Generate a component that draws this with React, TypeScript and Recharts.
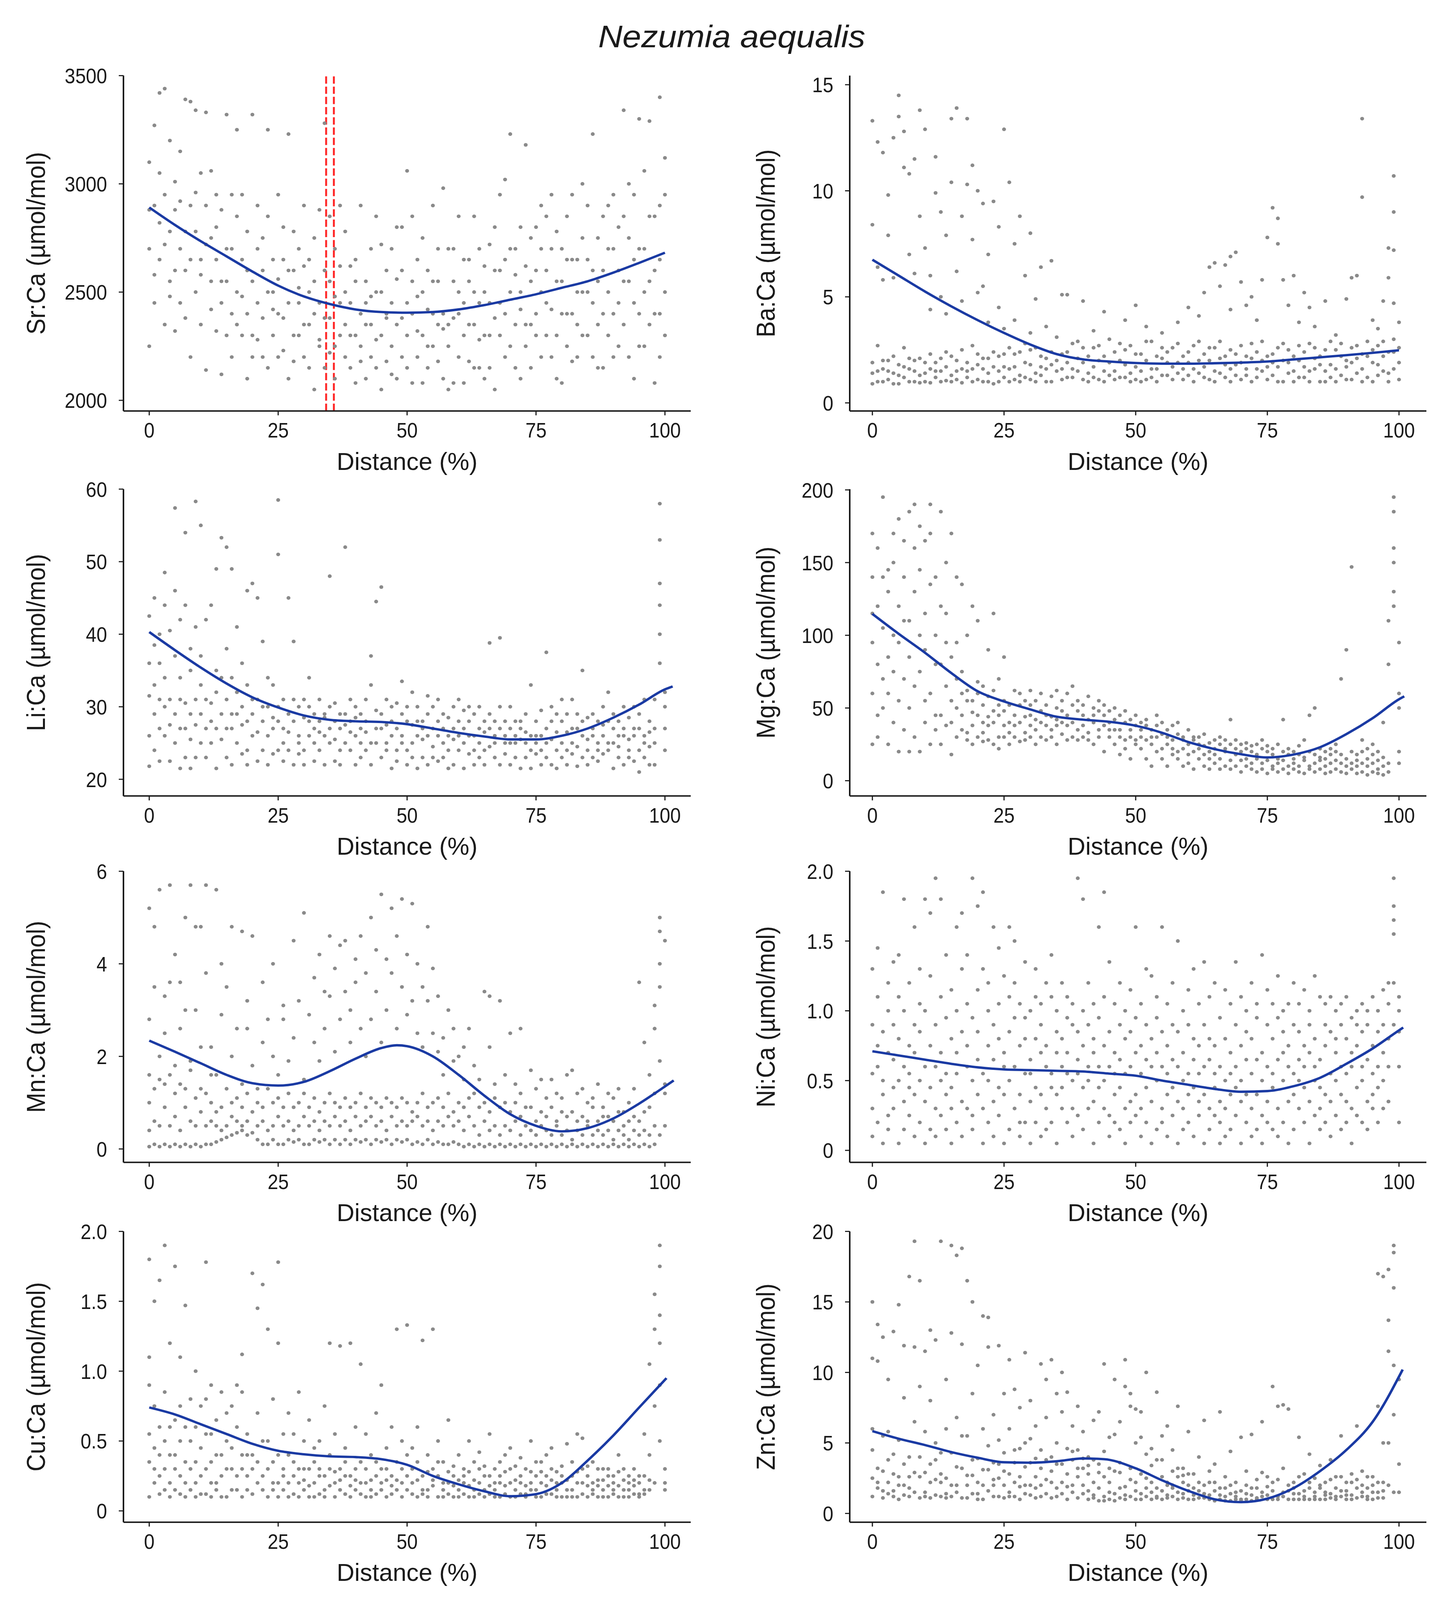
import { ScatterChart, Scatter, XAxis, YAxis, ReferenceLine } from 'recharts'

type Pt = [number, number]
type Col = [number, number[]] // distance (%), readings at that distance

/* ── Tick labels ── */

const X_TICKS = [0, 25, 50, 75, 100]
const SR_TICKS = [2000, 2500, 3000, 3500]
const BA_TICKS = [0, 5, 10, 15]
const LI_TICKS = [20, 30, 40, 50, 60]
const MG_TICKS = [0, 50, 100, 150, 200]
const MN_TICKS = [0, 2, 4, 6]
const NI_TICKS = [0, 0.5, 1.0, 1.5, 2.0]
const CU_TICKS = [0, 0.5, 1.0, 1.5, 2.0]
const ZN_TICKS = [0, 5, 10, 15, 20]

/* ── Sr:Ca ── */

const srCols: Col[] = [
  [0,[2250,2700,3100,2880]],[1,[2580,2900,3270,2450]],[2,[3050,3420,2650,2820]],[3,[2350,2950,3440,2720]],[4,[3200,2550,2780,2480]],
  [5,[2880,3010,2600,2320]],[6,[2450,2700,3150,2920]],[7,[3390,2600,2780,2380]],[8,[2200,2900,3380,2650]],[9,[2500,2780,3340,2960]],
  [10,[3050,2350,2650,2580]],[11,[2900,2140,2720,3330]],[12,[2550,2750,2420,3060]],[13,[2650,2950,2320,2800]],[14,[2550,2120,2880,2450]],
  [15,[2300,2550,3320,2700]],[16,[2700,2400,2200,2950]],[17,[2850,3250,2500,2350]],[18,[2300,2650,2950,2480]],[19,[2400,2100,2600,2780]],
  [20,[2300,2200,3320,2550]],[21,[2450,2700,2900,2280]],[22,[2200,2600,2380,2750]],[23,[2850,3250,2500,2150]],[24,[2500,2300,2650,2420]],
  [25,[2950,2400,2200,2560]],[26,[2230,2650,2380,2800]],[27,[3230,2100,2450,2600]],[28,[2600,2780,2300,2180]],[29,[2300,2450,2700,2520]],
  [30,[2200,2900,2350,2620]],[31,[2650,2350,2500,2150]],[32,[2050,2550,2750,2400]],[33,[2250,2450,2280,2880]],[34,[3280,2600,2150,2380]],
  [35,[2380,2850,2550,2220]],[36,[2250,2700,2100,2480]],[37,[2450,2300,2620,2900]],[38,[2200,2500,2350,2780]],[39,[2150,2450,2300,2620]],
  [40,[2300,2650,2080,2550]],[41,[2400,2900,2250,2180]],[42,[2550,2100,2350,2450]],[43,[2350,2700,2200,2480]],[44,[2150,2500,2850,2280]],
  [45,[2500,2720,2300,2050]],[46,[2600,2400,2180,2380]],[47,[2250,2700,2450,2120]],[48,[2100,2350,2560,2800]],[49,[2800,2600,2200,2380]],
  [50,[2450,3060,2150,2300]],[51,[2550,2080,2850,2400]],[52,[2650,2200,2320,2480]],[53,[2500,2300,2080,2750]],[54,[2150,2600,2420,2250]],
  [55,[2400,2900,2250,2550]],[56,[2550,2180,2350,2700]],[57,[2100,2980,2400,2330]],[58,[2350,2700,2250,2050]],[59,[2700,2550,2080,2380]],
  [60,[2200,2500,2400,2850]],[61,[2080,2650,2300,2450]],[62,[2650,2350,2180,2550]],[63,[2850,2350,2150,2500]],[64,[2150,2450,2700,2280]],
  [65,[2500,2300,2620,2100]],[66,[2720,2300,2450,2150]],[67,[2050,2600,2380,2800]],[68,[2600,2300,2950,2450]],[69,[2400,3020,2200,2650]],
  [70,[2250,3230,2500,2700]],[71,[2700,2350,2150,2580]],[72,[2500,2100,2800,2420]],[73,[3180,2350,2620,2250]],[74,[2350,2550,2750,2150]],
  [75,[2800,2600,2400,2300]],[76,[2200,2700,2500,2900]],[77,[2450,2300,2850,2600]],[78,[2950,2700,2200,2420]],[79,[2300,2550,2780,2100]],
  [80,[2550,2080,2400,2700]],[81,[2850,2400,2250,2650]],[82,[2400,2650,2950,2180]],[83,[2650,2200,2500,2350]],[84,[3000,2500,2300,2750]],
  [85,[2500,2300,2650,2900]],[86,[3230,2450,2200,2600]],[87,[2750,2350,2550,2150]],[88,[2150,2600,2400,2850]],[89,[2900,2300,2700,2500]],
  [90,[2400,2700,2200,2950]],[91,[2250,2600,2800,2450]],[92,[2850,3340,2350,2550]],[93,[2550,2200,2750,3000]],[94,[2100,2950,2450,2650]],
  [95,[2400,3300,2700,2250]],[96,[2700,2250,3060,2500]],[97,[3290,2550,2350,2850]],[98,[2080,2850,2600,2400]],[99,[3400,2400,2650,2200,2900]],
  [100,[3120,2300,2950,2500]],
]
const srCurve: Pt[] = [
  [0,2891],[5,2810],[10,2735],[15,2665],[20,2595],[25,2530],[30,2480],[35,2445],[40,2420],[45,2408],[50,2405],[55,2408],[60,2420],[65,2440],[70,2465],[75,2490],[80,2520],[85,2550],[90,2590],[95,2635],[100,2682],
]
const srMarkers = [34.3, 35.8]

/* ── Ba:Ca ── */

const baCols: Col[] = [
  [0,[0.9,1.9,1.4,13.3,8.4]],[1,[1.5,2.7,1.0,12.3,6.4]],[2,[1.0,2.0,1.6,11.8,5.8]],[3,[2.0,1.1,1.5,9.8,7.9]],[4,[1.4,0.9,2.2,12.5,5.9]],
  [5,[0.9,1.8,1.3,14.5,13.5]],[6,[2.6,1.2,1.7,12.8,11.1]],[7,[1.6,1.0,2.1,10.8,7.0]],[8,[1.0,1.5,2.0,11.5,6.1]],[9,[2.1,1.3,0.95,13.8,8.8]],
  [10,[1.4,1.9,1.0,12.9,7.3]],[11,[0.95,1.6,2.3,6.0,4.4]],[12,[1.9,1.2,1.5,9.9,11.6]],[13,[1.5,2.1,1.0,5.0,9.0]],[14,[1.05,1.7,2.4,7.9,4.2]],
  [15,[2.2,1.3,1.0,13.4,10.4]],[16,[1.5,2.0,1.1,13.9,6.2]],[17,[0.95,1.6,2.5,8.8,4.8]],[18,[1.9,1.2,1.5,13.4,10.3]],[19,[2.7,1.0,1.6,11.2,7.7]],
  [20,[1.1,1.8,2.3,10.0,5.2]],[21,[1.6,1.0,2.1,5.5,9.4]],[22,[2.1,1.4,1.0,7.0,3.8]],[23,[0.9,1.7,2.4,9.5]],[24,[1.5,1.0,2.2,4.5,8.3]],
  [25,[2.3,1.2,1.7,12.9,3.5]],[26,[1.0,1.6,2.6,10.4]],[27,[1.7,1.1,2.3,7.5,3.9]],[28,[2.4,1.3,1.0,8.8]],[29,[1.2,1.9,2.8,6.0]],
  [30,[1.8,1.1,2.5,8.0,3.3]],[31,[2.6,1.4,1.0,4.9]],[32,[1.3,2.2,1.7,6.4]],[33,[2.1,1.0,1.6,3.6]],[34,[1.0,2.4,1.8,6.7]],
  [35,[3.1,1.5,2.0]],[36,[1.6,2.3,1.1,5.1]],[37,[2.4,1.2,1.9,5.1]],[38,[1.2,2.8,1.6]],[39,[2.9,1.5,2.1]],
  [40,[1.9,1.1,2.6,4.8]],[41,[1.4,2.2,1.0]],[42,[2.6,1.7,1.2,3.4]],[43,[1.1,2.0,2.7]],[44,[2.2,1.5,1.0,4.3]],
  [45,[3.0,1.3,1.9]],[46,[1.5,2.4,1.1]],[47,[2.0,1.2,2.8]],[48,[1.2,1.8,2.5,3.9]],[49,[2.7,1.4,1.0]],
  [50,[1.7,2.3,1.1,4.6]],[51,[2.3,1.5,1.0]],[52,[1.1,2.0,2.9,3.6]],[53,[2.9,1.6,1.2]],[54,[1.6,2.2,1.0]],
  [55,[2.1,1.3,2.6,3.3]],[56,[1.3,1.9,2.4]],[57,[2.6,1.1,1.7]],[58,[1.9,1.4,2.8,3.8]],[59,[1.1,2.2,1.6]],
  [60,[2.4,1.3,1.9,4.5]],[61,[1.6,2.7,1.0]],[62,[2.9,1.4,2.0,4.1]],[63,[1.2,2.3,1.7,5.2]],[64,[2.0,1.1,2.6,6.4]],
  [65,[2.6,1.5,1.0,6.6]],[66,[1.4,2.1,2.9,5.5]],[67,[2.2,1.2,1.8,6.5]],[68,[1.0,2.5,1.6,6.9,4.4]],[69,[1.8,1.3,2.3,7.1]],
  [70,[2.7,1.1,1.9,5.7]],[71,[1.3,2.2,1.6,4.6]],[72,[2.1,1.0,2.8,5.0]],[73,[1.6,2.4,1.2,3.9]],[74,[2.9,1.5,2.0,5.8]],
  [75,[1.1,2.2,1.7,7.8]],[76,[2.3,1.3,1.9,9.2]],[77,[1.7,2.6,1.0,8.7,7.5]],[78,[1.0,2.0,2.8,5.8]],[79,[2.5,1.4,1.9,4.6]],
  [80,[1.5,2.2,1.0,6.0]],[81,[2.0,1.2,2.7,3.8]],[82,[1.2,2.4,1.7,5.2]],[83,[2.8,1.5,1.0,4.5]],[84,[1.6,2.1,2.6,3.6]],
  [85,[2.2,1.0,1.8]],[86,[1.0,2.5,1.5,4.8]],[87,[1.8,1.2,2.9]],[88,[2.5,1.6,1.0,3.2]],[89,[1.3,2.2,2.8]],
  [90,[2.0,1.1,1.7,4.9]],[91,[1.1,2.6,1.9,5.9]],[92,[2.7,1.4,2.1,6.0]],[93,[1.6,2.3,1.0,9.7,13.4]],[94,[2.2,1.2,2.9]],
  [95,[1.0,1.9,2.5,3.9]],[96,[1.8,2.7,1.3,3.5]],[97,[2.9,1.5,2.2,4.8]],[98,[1.4,2.4,1.0,5.9,7.3]],[99,[2.4,1.6,3.0,9.0,10.7,4.7,7.2]],
  [100,[1.9,1.1,2.6,3.8]],
]
const baCurve: Pt[] = [
  [0,6.75],[5,6.0],[10,5.25],[15,4.55],[20,3.9],[25,3.3],[30,2.75],[35,2.3],[40,2.05],[45,1.95],[50,1.88],[55,1.85],[60,1.85],[65,1.87],[70,1.9],[75,1.95],[80,2.05],[85,2.15],[90,2.25],[95,2.36],[100,2.48],
]

/* ── Li:Ca ── */

const liCols: Col[] = [
  [0,[21.8,26,31.5,36,42.5]],[1,[29,24,38.5,33,45]],[2,[27,22.5,40,31,36]],[3,[48.5,26,30,44,34]],[4,[22.5,40.5,27.5,31]],
  [5,[57.4,46,25,37,29]],[6,[21.5,34,42,27,31]],[7,[54,23,44,30.5,27]],[8,[21.5,35,25.5,29,38]],[9,[58.3,31,23,27.5,41]],
  [10,[55,29,33,25,37]],[11,[23,42,27,31]],[12,[44,30.5,25,28]],[13,[21.5,35,27,32,49]],[14,[53.3,25.5,29,34]],
  [15,[52,38,23,31,27]],[16,[49,27,34,22,29]],[17,[41,29,25,32]],[18,[23.5,36,27.5,30]],[19,[46,24,28,33,22]],
  [20,[47,26,29,31]],[21,[22.5,45,26.5,31]],[22,[39,24,28,30]],[23,[22,34,26,30]],[24,[23.5,28.5,27,33]],
  [25,[58.5,24,51,28,30]],[26,[22.5,27,31,25]],[27,[45,26.5,29,24]],[28,[39,22,28,31]],[29,[25,30,26,23.5]],
  [30,[28.5,24,22,31]],[31,[30,26,28,34]],[32,[22.5,27,29,25]],[33,[28,24,31,26.5]],[34,[26,29,22,28.5]],
  [35,[48,25,30,27]],[36,[22.5,28,25.5,30.5]],[37,[27,24,29,22]],[38,[52,29,25,27.5]],[39,[24,31,26.5,28]],
  [40,[22,28.5,26,30]],[41,[23,27,25,29]],[42,[31,24,26.5,28]],[43,[37,33,25,22]],[44,[44.5,25,29.5,27]],
  [45,[46.5,23,27,29]],[46,[31,25,27.5,24]],[47,[21.5,28,26,30]],[48,[24,30.5,27,22.5]],[49,[26,29,25,33.5]],
  [50,[28,24,22,30]],[51,[27.5,25,23,32]],[52,[21.5,30,26,28]],[53,[25.5,28,23,27]],[54,[22,29,26,31.5]],
  [55,[24.5,27,30,23]],[56,[26,31,28,22.5]],[57,[23,27,25,29]],[58,[21.5,26,28.5,24]],[59,[22,30,25.5,27]],
  [60,[28,24,26,31]],[61,[21.5,27,25,29.5]],[62,[23.5,28,26,30]],[63,[26,24,22,29]],[64,[27,25,30,23]],
  [65,[22,26.5,28,24]],[66,[38.8,29,24.5,27]],[67,[26,23,28,25]],[68,[39.5,27,22,30]],[69,[25,28,23.5,26]],
  [70,[30,25,27,22]],[71,[23,26,28,25]],[72,[28,21.5,25.5,27]],[73,[25,29,23,26.5]],[74,[33,26,24,21.5]],
  [75,[26,23.5,28,25]],[76,[29.5,22,26,24]],[77,[37.5,25,27,23]],[78,[22,28,25.5,30]],[79,[24,26.5,29,21.5]],
  [80,[28,23,25,31]],[81,[26.5,24,29,22]],[82,[31,25,27,23.5]],[83,[21.8,27,24.5,29]],[84,[35,26,23,28]],
  [85,[24,28.5,25.5,22]],[86,[29,26,23,27]],[87,[22.5,25,28,24]],[88,[26,30,23.5,27.5]],[89,[32,24,28,25]],
  [90,[21.5,27,25,29]],[91,[28,23,26,24.5]],[92,[26,30,22,27]],[93,[23,25.5,28.5,24]],[94,[30,26,22.5,27]],
  [95,[27,24,29,21]],[96,[25,31,23,26]],[97,[22,28,24.5,26.5]],[98,[31,25,22,27]],[99,[58,53,47,44,40,36]],
  [100,[27,24,30,32]],
]
const liCurve: Pt[] = [
  [0,40.3],[5,37.8],[10,35.4],[15,33.2],[20,31.3],[25,29.9],[30,28.8],[35,28.2],[40,28.0],[45,27.9],[50,27.6],[55,27.0],[60,26.4],[65,25.9],[70,25.5],[75,25.5],[80,26.0],[85,27.0],[90,28.5],[95,30.3],[100,32.4],[101.5,32.8],
]

/* ── Mg:Ca ── */

const mgCols: Col[] = [
  [0,[25,60,95,140,170,115]],[1,[80,45,120,160,30]],[2,[70,195,105,50,140]],[3,[145,85,25,130,60]],[4,[170,40,100,150,75]],
  [5,[20,120,55,180,95]],[6,[35,140,70,165,110]],[7,[20,110,185,50,85]],[8,[190,130,30,65,160]],[9,[100,20,175,75,145]],
  [10,[40,115,55,165,90]],[11,[25,135,60,170,190]],[12,[35,100,140,45,80]],[13,[45,80,120,25,185]],[14,[65,95,38,115,150]],
  [15,[55,18,85,40,170]],[16,[70,30,50,95,140]],[17,[35,60,45,75,135]],[18,[28,55,62,33,100]],[19,[47,25,55,38,120]],
  [20,[68,30,45,60,110]],[21,[27,40,52,65,33]],[22,[44,28,58,38,90]],[23,[48,62,25,40,115]],[24,[52,22,30,45,70]],
  [25,[38,55,30,48,85]],[26,[25,40,52,33]],[27,[45,62,30,38]],[28,[60,27,40,52]],[29,[33,44,28,55]],
  [30,[52,38,30,45,62]],[31,[25,42,35,55]],[32,[40,48,30,60]],[33,[28,38,52,45]],[34,[44,58,35,30]],
  [35,[38,50,25,42,62]],[36,[32,55,40,48]],[37,[28,45,60,38]],[38,[40,52,30,65]],[39,[35,48,55,28]],
  [40,[30,45,52,38]],[41,[42,58,33,28]],[42,[25,40,50,45]],[43,[35,55,30,48]],[44,[20,38,45,52]],
  [45,[30,48,40,35]],[46,[25,42,50,35]],[47,[18,35,30,45]],[48,[28,40,48,22]],[49,[15,30,42,35]],
  [50,[25,38,45,28]],[51,[22,30,40,35]],[52,[15,28,42,38]],[53,[10,25,35,30]],[54,[20,30,38,45]],
  [55,[15,22,32,40]],[56,[10,25,30,35]],[57,[18,28,38,22]],[58,[15,20,32,40]],[59,[10,22,30,28]],
  [60,[12,18,25,35]],[61,[8,20,28,30]],[62,[15,22,30,25]],[63,[10,18,24,32]],[64,[8,20,26,15]],
  [65,[12,22,28,18]],[66,[8,15,25,30]],[67,[10,20,22,28]],[68,[8,14,25,42]],[69,[10,18,22,28]],
  [70,[6,14,20,25]],[71,[10,15,22,26]],[72,[8,12,20,24]],[73,[6,15,18,25]],[74,[8,12,22,28]],
  [75,[5,14,20,24]],[76,[8,10,18,22]],[77,[6,12,15,25]],[78,[8,14,20,42]],[79,[5,10,18,22]],
  [80,[8,12,15,20]],[81,[6,10,18,24]],[82,[5,14,16,28]],[83,[8,10,20,45]],[84,[6,12,18,50]],
  [85,[8,14,22,16]],[86,[5,10,15,20]],[87,[6,12,18,22]],[88,[8,14,20,25]],[89,[6,12,18,70]],
  [90,[5,10,15,90]],[91,[8,12,20,147]],[92,[5,14,18,10]],[93,[6,12,20,28]],[94,[4,10,15,22]],
  [95,[6,12,18,25]],[96,[5,8,14,20]],[97,[4,10,16,40]],[98,[6,12,80,110]],[99,[120,150,160,185,195,130]],
  [100,[95,50,20,12,60]],
]
const mgCurve: Pt[] = [
  [0,114.7],[5,101],[10,88],[15,74],[20,61.5],[25,54.5],[30,49],[35,44],[40,42],[45,40.5],[50,37.8],[55,33],[60,26.6],[65,21.7],[70,18.2],[75,16],[80,18],[85,23],[90,32],[95,43],[100,56],[101,58],
]

/* ── Mn:Ca ── */

const mnCols: Col[] = [
  [0,[0.05,0.4,1.0,1.6,2.8,5.2]],[1,[0.1,0.6,1.3,3.5,4.8]],[2,[0.05,0.5,1.5,2.0,5.6]],[3,[0.1,0.9,1.4,3.3,2.5]],[4,[0.05,0.5,1.6,3.6,5.7]],
  [5,[0.1,0.7,1.2,1.8,4.2]],[6,[0.05,0.4,1.4,2.6,3.6]],[7,[0.1,0.9,1.3,5.0,3.0]],[8,[0.05,0.6,1.7,1.9,5.7]],[9,[0.1,0.5,1.1,3.0,4.8]],
  [10,[0.05,0.8,1.3,4.8,2.2]],[11,[0.1,0.5,1.2,3.8,5.7]],[12,[0.1,0.6,1.0,2.2,1.6]],[13,[0.15,0.5,0.8,1.6,5.6]],[14,[0.2,0.4,0.9,2.9,4.0]],
  [15,[0.25,0.5,1.3,3.5]],[16,[0.3,0.7,1.0,2.0,4.8]],[17,[0.35,0.6,1.1,2.6]],[18,[0.4,0.5,0.9,1.4,4.7]],[19,[0.3,0.6,1.2,2.6,3.2]],
  [20,[0.35,0.8,1.8,4.6]],[21,[0.2,0.5,1.0,1.3]],[22,[0.1,0.6,0.9,2.3,3.6]],[23,[0.1,0.4,1.3,2.8]],[24,[0.2,0.5,1.0,2.0,4.0]],
  [25,[0.1,0.7,1.1,1.6]],[26,[0.1,0.5,0.9,2.8,3.1]],[27,[0.2,0.6,1.2,1.9]],[28,[0.15,0.4,0.9,2.4,4.5]],[29,[0.2,0.5,1.0,3.2]],
  [30,[0.1,0.7,1.2,1.5,5.1]],[31,[0.1,0.5,0.9,2.9]],[32,[0.2,0.6,1.1,3.7,2.3]],[33,[0.15,0.4,0.8,1.9,4.2]],[34,[0.2,0.6,1.0,2.6,3.4]],
  [35,[0.1,0.5,1.2,3.3,4.6]],[36,[0.2,0.7,1.0,2.1,3.9]],[37,[0.1,0.5,0.9,2.8,4.4]],[38,[0.2,0.6,1.1,3.4,4.5]],[39,[0.1,0.4,0.9,2.3,3.0]],
  [40,[0.2,0.7,1.0,4.1,3.6]],[41,[0.15,0.5,1.2,2.6,4.6]],[42,[0.2,0.6,0.9,3.8,2.0]],[43,[0.1,0.7,1.1,2.8,5.0]],[44,[0.2,0.5,1.0,3.4,4.3]],
  [45,[0.15,0.6,0.9,2.3,5.5]],[46,[0.2,0.4,1.1,4.1,3.0]],[47,[0.1,0.7,1.0,3.8,5.2]],[48,[0.2,0.5,0.9,2.6,4.6]],[49,[0.15,0.6,1.1,3.5,5.4]],
  [50,[0.2,0.5,1.0,2.9,4.2]],[51,[0.1,0.6,0.8,3.2,5.3]],[52,[0.15,0.7,1.0,2.5,4.0]],[53,[0.1,0.5,1.2,3.5,2.2]],[54,[0.2,0.6,0.9,3.2,4.8]],
  [55,[0.1,0.4,1.0,2.5,3.9]],[56,[0.15,0.6,1.1,2.1,3.3]],[57,[0.1,0.5,0.9,1.6,2.4]],[58,[0.1,0.7,1.2,3.0]],[59,[0.15,0.5,0.8,1.9,2.6]],
  [60,[0.1,0.6,1.0,2.0]],[61,[0.05,0.4,0.9,1.5,2.2]],[62,[0.1,0.7,1.1,2.6]],[63,[0.05,0.5,1.2,1.8]],[64,[0.1,0.3,0.9,1.5]],
  [65,[0.05,0.6,1.0,3.4]],[66,[0.1,0.4,0.8,2.2,3.3]],[67,[0.05,0.5,1.4,1.1]],[68,[0.1,0.3,0.9,3.2]],[69,[0.05,0.5,1.0,1.6]],
  [70,[0.1,0.4,0.8,2.5]],[71,[0.05,0.6,1.0,1.4]],[72,[0.1,0.3,0.7,1.2,2.6]],[73,[0.05,0.5,0.9]],[74,[0.1,0.4,0.9,1.7]],
  [75,[0.05,0.3,0.6,1.3]],[76,[0.1,0.5,0.8,1.5]],[77,[0.05,0.4,0.7,1.1]],[78,[0.1,0.3,0.9,1.5]],[79,[0.05,0.5,0.6,1.2]],
  [80,[0.1,0.3,0.8,1.1]],[81,[0.05,0.4,0.7,1.6]],[82,[0.1,0.2,0.8,1.7]],[83,[0.05,0.4,0.6,1.2]],[84,[0.1,0.3,0.7,1.3]],
  [85,[0.05,0.5,0.6,1.0]],[86,[0.1,0.3,0.9,1.1]],[87,[0.05,0.4,0.6,1.4]],[88,[0.1,0.3,0.7,0.9]],[89,[0.05,0.4,0.7,1.2]],
  [90,[0.1,0.2,0.6,1.1]],[91,[0.05,0.4,0.8,1.3]],[92,[0.1,0.3,0.5,0.8]],[93,[0.05,0.2,0.6,1.0]],[94,[0.1,0.4,0.7,1.3]],
  [95,[0.05,0.3,0.6,3.6]],[96,[0.1,0.4,0.8,2.3]],[97,[0.05,0.3,0.9,1.6]],[98,[0.1,0.5,1.2,2.6,3.1]],[99,[0.3,1.9,4.0,5.0,4.7,3.5]],
  [100,[0.5,1.2,1.4,4.5]],
]
const mnCurve: Pt[] = [
  [0,2.34],[5,2.1],[10,1.85],[15,1.6],[20,1.42],[25,1.37],[30,1.45],[35,1.68],[40,1.95],[45,2.18],[48,2.24],[50,2.22],[55,2.0],[60,1.6],[65,1.15],[70,0.75],[75,0.5],[80,0.38],[85,0.45],[90,0.66],[95,0.98],[100,1.35],[101.7,1.48],
]

/* ── Ni:Ca ── */

const niCols: Col[] = [
  [0,[0.1,0.55,0.9,1.3,0.3]],[1,[0.75,1.45,0.2,0.6,1.1]],[2,[0.4,1.85,0.05,0.85,0.5]],[3,[1.2,0.25,0.7,1.0,0.15]],[4,[0.45,1.35,0.9,0.3,0.65]],
  [5,[1.1,0.05,0.5,0.8,1.4]],[6,[0.35,0.6,1.0,0.15,1.8]],[7,[0.45,0.75,0.25,1.2,0.55]],[8,[0.9,0.1,1.6,0.4,0.7]],[9,[1.05,0.2,0.5,1.3,0.85]],
  [10,[0.05,1.8,0.35,0.6,1.0]],[11,[0.15,1.7,0.45,0.75,1.25]],[12,[0.3,0.6,0.9,1.95,0.1]],[13,[0.5,1.1,0.25,0.7,1.8]],[14,[0.4,0.95,0.15,0.55,1.4]],
  [15,[0.3,0.8,1.15,0.05,0.45]],[16,[1.6,0.7,0.2,1.0,0.55]],[17,[1.3,0.35,0.85,0.1,1.7]],[18,[0.6,1.05,0.3,0.75,1.4]],[19,[0.15,0.5,0.95,1.95,0.25]],
  [20,[0.65,1.15,0.4,1.75,0.85]],[21,[0.05,0.55,1.3,0.3,1.85]],[22,[0.75,1.0,0.2,0.5,1.2]],[23,[0.9,0.35,1.6,0.65,0.1]],[24,[1.05,0.45,0.8,1.45,0.25]],
  [25,[0.6,1.25,0.05,0.7,0.4]],[26,[1.1,1.6,0.15,0.85,0.5]],[27,[1.2,0.3,0.95,0.6,1.5]],[28,[0.1,0.75,0.4,1.05,0.2]],[29,[0.8,0.55,0.2,1.35,0.95]],
  [30,[0.05,0.55,1.0,0.35,0.65]],[31,[0.2,1.1,0.45,0.8,1.3]],[32,[0.7,0.1,0.9,0.4,1.05]],[33,[0.6,1.2,0.3,0.75,0.15]],[34,[1.1,0.45,1.4,0.55,0.2]],
  [35,[0.7,1.0,0.4,0.05,0.85]],[36,[0.8,0.3,0.6,1.2,0.45]],[37,[0.2,0.95,0.55,1.1,0.7]],[38,[0.1,0.9,1.05,0.5,0.3]],[39,[0.55,1.95,0.85,0.25,0.65]],
  [40,[0.45,0.15,1.0,0.75,1.8]],[41,[0.6,0.3,0.9,1.2,0.5]],[42,[0.05,0.7,1.05,0.35,0.8]],[43,[0.45,1.6,0.2,0.95,0.6]],[44,[1.85,0.75,0.3,1.1,0.5]],
  [45,[0.25,0.85,0.6,1.35,0.1]],[46,[0.7,0.4,1.05,0.55,0.2]],[47,[0.15,0.9,0.65,1.2,0.45]],[48,[0.8,0.3,1.0,0.55,0.05]],[49,[0.6,1.15,0.35,0.85,0.2]],
  [50,[0.4,1.6,0.7,0.25,0.95]],[51,[0.1,0.55,1.05,0.75,0.3]],[52,[0.65,0.9,0.2,1.3,0.45]],[53,[0.35,0.8,1.25,0.05,0.6]],[54,[0.5,0.15,0.95,0.7,1.1]],
  [55,[0.3,0.6,1.6,0.85,0.2]],[56,[0.75,0.4,1.05,0.55,0.1]],[57,[0.9,0.25,0.65,1.2,0.45]],[58,[0.6,0.35,0.85,0.05,1.5]],[59,[0.15,0.7,0.5,1.0,0.3]],
  [60,[0.55,0.9,0.2,1.15,0.4]],[61,[0.1,0.65,0.45,0.8,1.3]],[62,[0.35,0.75,0.25,1.05,0.55]],[63,[0.6,0.05,0.9,0.4,1.35]],[64,[0.3,0.8,0.15,0.65,1.1]],
  [65,[0.45,1.2,0.25,0.75,0.55]],[66,[0.2,0.6,0.95,0.35,0.05]],[67,[0.5,1.15,0.3,0.8,0.1]],[68,[0.7,0.4,0.15,1.05,0.55]],[69,[0.25,0.9,1.35,0.45,0.6]],
  [70,[0.05,0.75,0.35,1.1,0.5]],[71,[0.2,0.65,1.0,0.4,0.85]],[72,[0.55,0.1,0.8,1.2,0.3]],[73,[0.95,0.4,0.65,0.15,1.05]],[74,[0.25,0.7,1.4,0.5,0.05]],
  [75,[0.6,0.35,0.9,1.15,0.2]],[76,[0.45,0.8,0.15,1.05,0.55]],[77,[0.1,0.65,0.95,0.3,1.25]],[78,[0.5,0.85,0.2,0.7,1.0]],[79,[0.35,1.05,0.6,0.05,0.75]],
  [80,[0.15,0.55,0.9,1.2,0.4]],[81,[0.65,0.3,1.05,0.5,0.85]],[82,[0.2,0.75,0.45,1.15,0.6]],[83,[0.05,0.9,0.35,0.7,1.0]],[84,[0.5,1.25,0.25,0.8,0.6]],
  [85,[0.3,0.65,1.1,0.45,0.15]],[86,[0.75,0.4,0.9,1.05,0.2]],[87,[0.55,0.1,0.85,0.35,1.1]],[88,[0.25,0.7,1.0,0.5,0.8]],[89,[0.6,1.05,0.15,0.9,0.4]],
  [90,[0.35,0.8,0.55,1.1,0.2]],[91,[0.7,0.3,0.95,0.05,0.6]],[92,[0.45,1.0,0.25,0.75,0.9]],[93,[0.2,0.6,1.05,0.5,0.85]],[94,[0.65,0.35,0.9,0.15,1.0]],
  [95,[0.4,0.75,0.55,1.1,0.3]],[96,[0.2,0.85,0.6,1.0,0.45]],[97,[0.7,0.3,1.15,0.5,0.9]],[98,[0.6,1.05,0.35,0.8,1.2]],[99,[1.55,1.65,1.75,1.95,1.2,0.9]],
  [100,[1.1,0.6,0.2,0.85,1.0]],
]
const niCurve: Pt[] = [
  [0,0.71],[5,0.68],[10,0.65],[15,0.62],[20,0.595],[25,0.58],[30,0.575],[35,0.57],[40,0.565],[45,0.55],[50,0.535],[55,0.5],[60,0.47],[65,0.44],[70,0.42],[75,0.425],[80,0.46],[85,0.52],[90,0.62],[95,0.73],[100,0.86],[100.8,0.88],
]

/* ── Cu:Ca ── */

const cuCols: Col[] = [
  [0,[0.1,0.35,0.55,0.9,1.1,1.8]],[1,[0.2,0.45,1.5,0.75,0.3]],[2,[0.12,0.6,1.65,0.4,0.25]],[3,[0.3,0.85,1.9,0.15,0.5]],[4,[0.2,0.6,1.2,0.4,0.1]],
  [5,[0.15,0.4,1.75,0.65,0.3]],[6,[0.25,0.5,1.1,0.75,0.12]],[7,[0.1,0.35,1.47,0.6,0.2]],[8,[0.3,0.8,0.5,0.15]],[9,[0.2,0.6,1.0,0.35,0.1]],
  [10,[0.45,0.75,0.25,0.12]],[11,[0.12,0.3,1.78,0.55,0.8]],[12,[0.2,0.55,0.9,0.35,0.1]],[13,[0.2,0.65,0.4,0.15]],[14,[0.1,0.4,0.85,0.25]],
  [15,[0.1,0.5,0.3,0.7]],[16,[0.3,0.75,0.15,0.45]],[17,[0.15,0.6,0.25,0.9]],[18,[0.1,0.4,1.12,0.3,0.85]],[19,[0.25,0.55,0.15,0.4]],
  [20,[0.12,0.4,1.7,0.3]],[21,[0.2,0.7,1.45,0.35]],[22,[0.25,1.62,0.15,0.5]],[23,[0.1,0.5,1.3,0.3]],[24,[0.2,0.35,0.8,0.15]],
  [25,[0.2,1.2,1.78,0.4,0.1]],[26,[0.15,0.55,0.3,0.25]],[27,[0.1,0.4,0.7,0.2]],[28,[0.25,0.55,0.12,0.35]],[29,[0.1,0.3,0.85,0.2]],
  [30,[0.3,0.5,0.15,0.22]],[31,[0.18,0.65,0.1,0.3]],[32,[0.35,0.1,0.2,0.45]],[33,[0.25,0.5,0.12,0.3]],[34,[0.15,0.75,0.25,0.1]],
  [35,[0.4,1.2,0.18,0.3]],[36,[0.2,0.55,0.1,0.28]],[37,[0.3,1.18,0.15,0.22]],[38,[0.12,0.45,0.25,0.35]],[39,[0.25,1.2,0.1,0.18]],
  [40,[0.15,0.6,0.3,0.22]],[41,[0.35,1.05,0.12,0.2]],[42,[0.2,0.55,0.1,0.3]],[43,[0.1,0.4,0.22,0.15]],[44,[0.25,0.7,0.12,0.35]],
  [45,[0.15,0.9,0.3,0.2]],[46,[0.3,0.45,0.1,0.22]],[47,[0.12,0.6,0.25,0.18]],[48,[0.35,1.3,0.15,0.22]],[49,[0.2,0.5,0.1,0.3]],
  [50,[0.15,1.33,0.25,0.4]],[51,[0.3,0.45,0.12,0.2]],[52,[0.1,0.6,0.22,0.35]],[53,[0.25,1.22,0.15,0.12]],[54,[0.15,0.4,0.28,0.1]],
  [55,[0.3,1.3,0.18,0.22]],[56,[0.1,0.5,0.25,0.35]],[57,[0.2,0.35,0.1,0.15]],[58,[0.12,0.65,0.28,0.2]],[59,[0.25,0.1,0.18,0.32]],
  [60,[0.1,0.4,0.22,0.15]],[61,[0.3,0.12,0.2,0.25]],[62,[0.18,0.5,0.1,0.28]],[63,[0.1,0.22,0.35,0.15]],[64,[0.3,0.42,0.12,0.2]],
  [65,[0.15,0.25,0.1,0.32]],[66,[0.25,0.55,0.12,0.18]],[67,[0.1,0.2,0.3,0.15]],[68,[0.35,0.2,0.1,0.25]],[69,[0.12,0.28,0.18,0.4]],
  [70,[0.3,0.45,0.1,0.2]],[71,[0.1,0.22,0.15,0.32]],[72,[0.2,0.38,0.12,0.25]],[73,[0.12,0.3,0.18,0.1]],[74,[0.28,0.5,0.15,0.2]],
  [75,[0.15,0.25,0.1,0.35]],[76,[0.35,0.1,0.2,0.28]],[77,[0.25,0.12,0.18,0.4]],[78,[0.45,0.12,0.22,0.3]],[79,[0.2,0.1,0.28,0.15]],
  [80,[0.32,0.1,0.2,0.25]],[81,[0.48,0.15,0.22,0.1]],[82,[0.15,0.25,0.35,0.1]],[83,[0.55,0.1,0.2,0.28]],[84,[0.3,0.52,0.12,0.2]],
  [85,[0.18,0.1,0.25,0.32]],[86,[0.12,0.35,0.2,0.15]],[87,[0.22,0.1,0.3,0.18]],[88,[0.1,0.3,0.15,0.22]],[89,[0.18,0.25,0.1,0.3]],
  [90,[0.25,0.12,0.2,0.15]],[91,[0.4,0.1,0.18,0.28]],[92,[0.15,0.22,0.1,0.3]],[93,[0.1,0.2,0.25,0.15]],[94,[0.3,0.18,0.12,0.22]],
  [95,[0.12,0.25,0.1,0.2]],[96,[0.25,0.55,0.15,0.12]],[97,[0.15,1.05,0.4,0.22]],[98,[1.55,0.75,1.3,0.2]],[99,[1.4,0.9,1.9,1.75,0.5,1.2]],
  [100,[0.2,0.15,0.3]],
]
const cuCurve: Pt[] = [
  [0,0.74],[5,0.69],[10,0.62],[15,0.55],[20,0.48],[25,0.43],[30,0.405],[35,0.39],[40,0.385],[45,0.37],[50,0.33],[55,0.25],[60,0.19],[65,0.14],[70,0.105],[75,0.12],[80,0.2],[85,0.36],[90,0.54],[95,0.74],[100.3,0.95],
]

/* ── Zn:Ca ── */

const znCols: Col[] = [
  [0,[1.2,2.5,4.5,11,15,6]],[1,[1.8,3.2,13.4,10.8,2.2]],[2,[1.1,5.5,12.5,1.6,3.0]],[3,[2.2,9.5,1.4,3.8,5.8]],[4,[1.2,2.8,12.9,4.2,1.6]],
  [5,[1.0,5.2,14.8,2.6,2.0]],[6,[2.0,8.2,3.5,1.3,11.9]],[7,[1.2,16.8,2.6,4.0,1.8]],[8,[19.3,11.8,6.5,1.5,2.9]],[9,[2.6,4.0,16.5,1.1,9.0]],
  [10,[1.5,11.5,2.9,5.8,1.2]],[11,[1.1,13,2.2,8.0,3.5]],[12,[3.8,1.3,12.3,5.0,2.4]],[13,[19.3,2.2,1.2,4.3,2.8]],[14,[2.5,9.5,1.4,6.0,1.1]],
  [15,[19,1.2,4.3,2.0,12.8]],[16,[6.8,2.0,18.3,1.5,3.3]],[17,[3.2,12,1.1,5.5,18.8]],[18,[1.1,5.5,16.5,2.7,2.0]],[19,[8.5,2.7,1.4,15,3.8]],
  [20,[1.4,3.9,10.5,2.2,1.0]],[21,[6.0,1.0,14,3.1,2.0]],[22,[3.1,11.8,1.6,4.8,13.9]],[23,[2.4,7.0,1.2,3.6,2.0]],[24,[11.9,1.2,3.5,5.2,2.5]],
  [25,[2.0,8.5,1.1,4.3,3.0]],[26,[2.8,6.0,1.5,10.9,1.2]],[27,[3.6,2.2,8.8,1.2,4.5]],[28,[4.6,2.6,7.5,1.0,1.9]],[29,[3.3,11.4,2.0,1.4,5.0]],
  [30,[2.0,5.3,1.3,8.0,3.6]],[31,[3.9,2.6,6.2,1.1,1.8]],[32,[4.5,2.0,10.6,1.2,3.2]],[33,[1.4,6.8,9.5,2.4,3.8]],[34,[4.0,1.1,10.9,3.0,2.2]],
  [35,[8.5,1.8,5.0,1.2,3.5]],[36,[3.5,7.2,2.2,10.0,1.4]],[37,[1.0,4.6,2.8,8.6,1.9]],[38,[1.5,3.8,6.2,2.0,4.4]],[39,[1.1,4.5,2.6,7.6,3.2]],
  [40,[1.4,3.2,2.0,5.8,3.9]],[41,[1.0,2.8,1.6,4.0,3.4]],[42,[1.1,6.6,2.2,1.3,3.8]],[43,[3.5,0.9,1.8,7.2,2.9]],[44,[1.2,2.6,0.9,4.4,10.6]],
  [45,[1.5,2.2,1.0,5.4,3.2]],[46,[1.4,3.0,0.9,5.6,9.5]],[47,[1.8,1.1,2.9,6.5,3.6]],[48,[1.3,1.9,9.0,1.0,10.9]],[49,[2.4,7.6,1.2,3.2,8.5]],
  [50,[1.6,7.4,1.0,2.2,5.0]],[51,[5.4,1.4,2.8,1.0,7.2]],[52,[1.8,4.2,1.2,2.5,10.0]],[53,[3.4,1.0,1.5,2.2,4.6]],[54,[1.1,3.8,1.8,1.2,8.6]],
  [55,[2.6,5.5,1.0,1.6,3.8]],[56,[2.2,1.3,6.2,1.1,2.0]],[57,[2.0,3.0,1.2,1.8,4.5]],[58,[2.6,1.0,7.6,1.5,3.2]],[59,[1.1,2.2,1.4,3.2,2.7]],
  [60,[1.6,2.0,5.8,1.0,2.8]],[61,[1.0,2.8,1.3,1.8]],[62,[1.6,4.0,1.1,2.2]],[63,[1.1,6.6,1.4,2.0]],[64,[2.2,1.3,1.0,3.0]],
  [65,[3.5,0.9,1.6,2.2]],[66,[1.8,7.2,1.0,1.3]],[67,[1.2,2.6,0.9,1.8]],[68,[0.9,4.4,1.4,2.0]],[69,[1.5,2.2,1.0,1.2]],
  [70,[1.0,5.4,1.6,0.9]],[71,[1.4,3.0,1.0,2.0]],[72,[0.9,5.6,1.3,1.8]],[73,[1.8,1.1,2.4,1.0]],[74,[2.9,6.5,1.2,1.5]],
  [75,[1.3,1.9,1.0,2.6]],[76,[9.0,1.0,1.6,2.2]],[77,[2.4,7.6,1.2,1.0]],[78,[1.2,3.2,1.5,7.7]],[79,[1.6,7.4,1.0,2.0]],
  [80,[1.0,2.2,1.4,1.8]],[81,[5.4,1.4,1.0,2.6]],[82,[2.8,1.0,1.6,1.2]],[83,[1.8,4.2,1.0,2.2]],[84,[1.2,2.5,1.5,1.0]],
  [85,[3.4,1.0,1.8,2.0]],[86,[1.5,2.2,1.0,1.3]],[87,[1.1,3.8,1.4,2.4]],[88,[1.8,1.2,2.6,1.0]],[89,[2.6,5.5,1.2,1.6]],
  [90,[1.0,1.6,2.2,1.3]],[91,[2.2,1.3,1.0,2.8]],[92,[6.2,1.1,1.8,2.4]],[93,[2.0,3.0,1.2,1.5]],[94,[1.2,1.8,2.6,1.0]],
  [95,[2.6,1.0,1.5,2.0]],[96,[7.6,1.5,17,1.1,2.2]],[97,[1.1,2.2,16.8,1.6,5.0]],[98,[11.5,5.0,13.7,17.3,2.0]],[99,[16.0,18.5,19,10.5,7.0,1.5]],
  [100,[3.5,1.5,9.5]],
]
const znCurve: Pt[] = [
  [0,5.84],[5,5.3],[10,4.85],[15,4.35],[20,3.95],[25,3.63],[30,3.6],[35,3.7],[40,3.9],[44,3.85],[50,3.2],[55,2.35],[60,1.6],[65,1.0],[70,0.8],[75,1.05],[80,1.8],[85,3.0],[90,4.5],[95,6.5],[100.7,10.2],
]

/* ── Layout ── */

const PAGE_W = 3714
const PAGE_H = 4380
const FONT = '"Liberation Sans", Arial, Helvetica, sans-serif'
const INK = '#1a1a1a'
const DOT = '#8a8a8a'
const SMOOTH = '#1a3aa3'

const COLS = [
  { plotLeft: 316, plotW: 1452, labelDx: 224, xDomain: [-5, 105] },
  { plotLeft: 2175, plotW: 1476, labelDx: 215, xDomain: [-4.3, 105.2] },
]
const ROWS = [
  { top: 207, h: 918 },
  { top: 1339, h: 840 },
  { top: 2385, h: 797 },
  { top: 3371, h: 796 },
]
const YW = 230
const MT = 40
const MR = 40
const XH = 100

const oneDecimal = (v: number) => (v === 0 ? '0' : v.toFixed(1))

const PANELS = [
  { col: 0, row: 0, label: 'Sr:Ca (µmol/mol)', domain: [1951, 3500], ticks: SR_TICKS, cols: srCols, curve: srCurve, markers: srMarkers },
  { col: 1, row: 0, label: 'Ba:Ca (µmol/mol)', domain: [-0.38, 15.43], ticks: BA_TICKS, cols: baCols, curve: baCurve },
  { col: 0, row: 1, label: 'Li:Ca (µmol/mol)', domain: [17.7, 60], ticks: LI_TICKS, cols: liCols, curve: liCurve },
  { col: 1, row: 1, label: 'Mg:Ca (µmol/mol)', domain: [-10.5, 200.5], ticks: MG_TICKS, cols: mgCols, curve: mgCurve },
  { col: 0, row: 2, label: 'Mn:Ca (µmol/mol)', domain: [-0.29, 6], ticks: MN_TICKS, cols: mnCols, curve: mnCurve },
  { col: 1, row: 2, label: 'Ni:Ca (µmol/mol)', domain: [-0.086, 2.0], ticks: NI_TICKS, cols: niCols, curve: niCurve, fmt: oneDecimal },
  { col: 0, row: 3, label: 'Cu:Ca (µmol/mol)', domain: [-0.081, 2.0], ticks: CU_TICKS, cols: cuCols, curve: cuCurve, fmt: oneDecimal },
  { col: 1, row: 3, label: 'Zn:Ca (µmol/mol)', domain: [-0.62, 20], ticks: ZN_TICKS, cols: znCols, curve: znCurve },
]

const flatten = (cols: Col[]) => cols.flatMap(([x, ys]) => ys.map((y) => ({ x, y })))
const toXY = (pts: Pt[]) => pts.map(([x, y]) => ({ x, y }))

const Dot = (p: any) => <circle cx={p.cx} cy={p.cy} r={5} fill={DOT} />
const NoDot = () => <g />

// narrow tick digits, like the condensed face of the original
function Tick(props: any) {
  const { x, y, payload, textAnchor, orientation, fmt } = props
  const label = fmt ? fmt(payload.value) : String(payload.value)
  return (
    <text
      x={x}
      y={y}
      dy={orientation === 'bottom' ? '0.71em' : '0.36em'}
      textAnchor={textAnchor}
      fontFamily={FONT}
      fontSize={58}
      fill={INK}
      transform={`translate(${x} ${y}) scale(0.84 1) translate(${-x} ${-y})`}
    >
      {label}
    </text>
  )
}

function Panel({ cfg }: { cfg: any }) {
  const col = COLS[cfg.col]
  const row = ROWS[cfg.row]
  const width = YW + col.plotW + MR
  const height = MT + row.h + XH
  return (
    <div style={{ position: 'absolute', left: col.plotLeft - YW, top: row.top - MT }}>
      <ScatterChart width={width} height={height} margin={{ top: MT, right: MR, bottom: 0, left: 0 }}>
        <XAxis
          type="number"
          dataKey="x"
          domain={col.xDomain}
          ticks={X_TICKS}
          interval={0}
          allowDataOverflow
          height={XH}
          tickSize={12}
          tickMargin={20}
          tick={(p: any) => <Tick {...p} orientation="bottom" />}
          axisLine={{ stroke: INK, strokeWidth: 4 }}
          tickLine={{ stroke: INK, strokeWidth: 3 }}
        />
        <YAxis
          type="number"
          dataKey="y"
          domain={cfg.domain}
          ticks={cfg.ticks}
          interval={0}
          allowDataOverflow
          width={YW}
          tickSize={12}
          tickMargin={30}
          tick={(p: any) => <Tick {...p} orientation="left" fmt={cfg.fmt} />}
          axisLine={{ stroke: INK, strokeWidth: 4 }}
          tickLine={{ stroke: INK, strokeWidth: 3 }}
        />
        <Scatter data={flatten(cfg.cols)} shape={Dot} isAnimationActive={false} />
        {(cfg.markers ?? []).map((m: number) => (
          <ReferenceLine key={m} x={m} stroke="#ff2a2a" strokeWidth={5} strokeDasharray="20 8" />
        ))}
        <Scatter
          data={toXY(cfg.curve)}
          shape={NoDot}
          line={{ stroke: SMOOTH, strokeWidth: 6.5 }}
          lineJointType="monotoneX"
          isAnimationActive={false}
        />
      </ScatterChart>
    </div>
  )
}

export default function App() {
  // the visible page can be a little shorter than the window; fit the figure to it
  const vh = typeof window !== 'undefined' ? window.innerHeight : PAGE_H
  const s = vh > 0 && vh < PAGE_H ? vh / PAGE_H : 1
  return (
    <div style={{ position: 'absolute', left: 0, top: 0, width: PAGE_W, height: Math.floor(PAGE_H * s), overflow: 'hidden', background: '#ffffff' }}>
      <div style={{ position: 'relative', width: PAGE_W, height: PAGE_H, transform: `scale(1, ${s})`, transformOrigin: '0 0' }}>
        {PANELS.map((p) => (
          <Panel key={p.label} cfg={p} />
        ))}
        <svg width={PAGE_W} height={PAGE_H} style={{ position: 'absolute', left: 0, top: 0, pointerEvents: 'none' }}>
          <text x={1873} y={129} textAnchor="middle" fontFamily={FONT} fontStyle="italic" fontSize={86} fill={INK}>
            Nezumia aequalis
          </text>
          {PANELS.map((p) => {
            const col = COLS[p.col]
            const row = ROWS[p.row]
            const cx = col.plotLeft - col.labelDx
            const cy = row.top + row.h / 2
            const lx = col.plotLeft + col.plotW / 2
            const ly = row.top + row.h + 161
            return (
              <g key={p.label}>
                <text
                  x={cx}
                  y={cy}
                  transform={`rotate(-90 ${cx} ${cy})`}
                  textAnchor="middle"
                  dominantBaseline="central"
                  fontFamily={FONT}
                  fontSize={66}
                  fill={INK}
                >
                  {p.label}
                </text>
                <text
                  x={lx}
                  y={ly}
                  textAnchor="middle"
                  fontFamily={FONT}
                  fontSize={67}
                  fill={INK}
                  transform={`translate(${lx} ${ly}) scale(0.94 1) translate(${-lx} ${-ly})`}
                >
                  Distance (%)
                </text>
              </g>
            )
          })}
        </svg>
      </div>
    </div>
  )
}
